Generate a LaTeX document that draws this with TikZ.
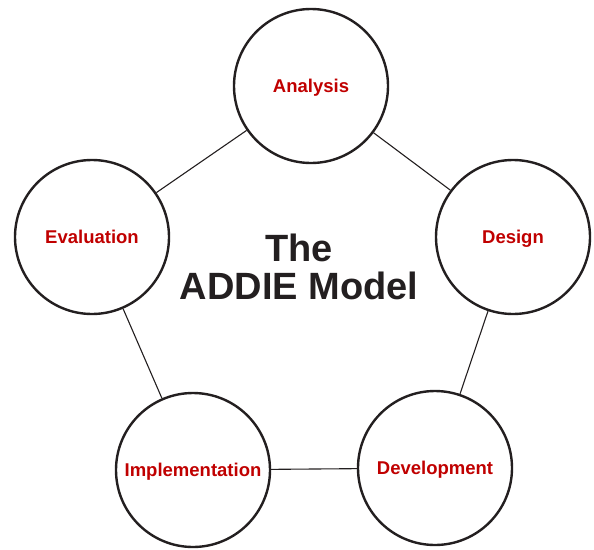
\documentclass[tikz,border=0pt]{standalone}
\usepackage{fontspec}
\setmainfont{Liberation Sans}
\definecolor{phasered}{HTML}{C00000}
\definecolor{ink}{HTML}{231F20}
\tikzset{
  phase/.style={shape=circle, draw=ink, line width=2.4pt, minimum size=154pt,
    inner sep=0pt, text=phasered, text height=13.5pt, text depth=0pt,
    font=\bfseries\fontsize{18.5}{20}\selectfont},
  title/.style={text=ink, anchor=base, inner sep=0pt,
    font=\bfseries\fontsize{38}{40}\selectfont},
  link/.style={draw=ink, line width=1.1pt}
}
\begin{document}
\begin{tikzpicture}[x=1pt, y=-1pt]
\useasboundingbox (0,0) rectangle (594,549);
\node [phase] (A) at (311,86) {Analysis};
\node [phase] (D) at (513,237) {Design};
\node [phase] (V) at (435,468) {Development};
\node [phase] (I) at (193,470) {Implementation};
\node [phase] (E) at (92,237) {Evaluation};
\node [title] (T1) at (299,261) {The};
\node [title] (T2) at (299,299) {ADDIE Model};

\draw[link] (A) -- (D);
\draw[link] (D) -- (V);
\draw[link] (V) -- (I);
\draw[link] (I) -- (E);
\draw[link] (E) -- (A);
\end{tikzpicture}
\end{document}
